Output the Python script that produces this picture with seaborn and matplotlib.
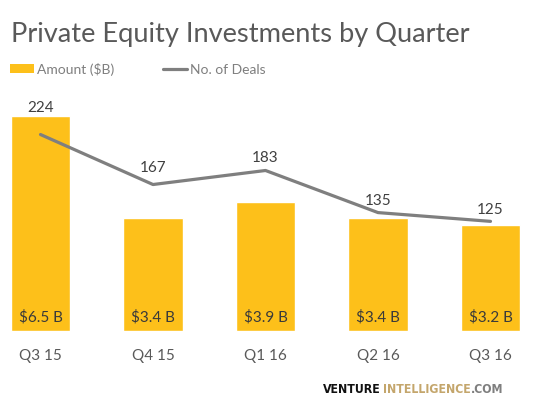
import numpy as np
import pandas as pd
import matplotlib
matplotlib.use("Agg")
import matplotlib.pyplot as plt
import seaborn as sns
from matplotlib.patches import Patch
from matplotlib.lines import Line2D

# Datos
quarters = ["Q3 15", "Q4 15", "Q1 16", "Q2 16", "Q3 16"]
amount = [6.5, 3.4, 3.9, 3.4, 3.2]
deals = [224, 167, 183, 135, 125]

df = pd.DataFrame({"quarter": quarters, "amount": amount, "deals": deals})

sns.set_style("white")
plt.rcParams["font.family"] = ["Lato", "DejaVu Sans"]

BAR = "#FDC01A"
LINE = "#7F7F7F"
TXT = "#595959"

fig = plt.figure(figsize=(5.4, 4.06), dpi=100)
ax = fig.add_axes([0, 74 / 406, 1, 232 / 406])

sns.barplot(data=df, x="quarter", y="amount", color=BAR, width=0.525,
            saturation=1, ax=ax)
ax.set_xlim(-0.36, 4.44)
ax.set_ylim(0, 7.0)
ax.set_xlabel("")
ax.set_ylabel("")
ax.set_yticks([])
ax.tick_params(axis="x", length=0, pad=12, labelsize=11, labelcolor=TXT)
sns.despine(ax=ax, left=True, bottom=True)

for i, v in enumerate(df["amount"]):
    ax.annotate(f"${v} B", (i, 0), xytext=(0, 15), textcoords="offset pixels",
                ha="center", va="center", fontsize=11, color="#3A3A3A")

ax2 = ax.twinx()
sns.lineplot(x=np.arange(len(df)), y=df["deals"], color=LINE, linewidth=2.3,
             ax=ax2)
ax2.set_ylim(0, 264.5)
ax2.set_yticks([])
ax2.set_ylabel("")
sns.despine(ax=ax2, left=True, bottom=True, right=True)

label_offsets = [28, 18, 13, 13, 12]
for i, v in enumerate(df["deals"]):
    ax2.annotate(str(v), (i, v), xytext=(0, label_offsets[i]),
                 textcoords="offset pixels", ha="center", va="center",
                 fontsize=11, color="#404040")

fig.text(11 / 540, 1 - 42 / 406, "Private Equity Investments by Quarter",
         fontsize=19.6, color=TXT, va="baseline", ha="left")

handles = [Patch(facecolor=BAR, edgecolor="none"),
           Line2D([0], [0], color=LINE, linewidth=2.3)]
fig.legend(handles, ["Amount ($B)", "No. of Deals"], loc="center left",
           bbox_to_anchor=(0.0, 1 - 70 / 406), ncol=2, frameon=False,
           fontsize=10, labelcolor="#7F7F7F", handlelength=1.75,
           handletextpad=0.2, columnspacing=3.5, handleheight=0.6,
           borderaxespad=0.3)

# marca de agua
wm_kw = dict(fontsize=13, fontweight="bold", family="DejaVu Sans",
             fontstretch="condensed", va="baseline")
wm_y = 1 - 393 / 406
parts = [("VENTURE", "#111111"), ("INTELLIGENCE", "#C4A66C"), (".COM", "#7F7F7F")]
x = 323
texts = []
for s, c in parts:
    t = fig.text(x / 540, wm_y, s, color=c, **wm_kw)
    fig.canvas.draw()
    bb = t.get_window_extent()
    x = bb.x1 + (2 if s == "VENTURE" else 0)
    texts.append(t)
# ajustar ancho total a ~179 px
total = x - 323
scale = 179 / total
for t in texts:
    t.remove()
x = 323
for s, c in parts:
    kw = dict(wm_kw)
    kw["fontsize"] = wm_kw["fontsize"] * scale
    t = fig.text(x / 540, wm_y, s, color=c, **kw)
    fig.canvas.draw()
    x = t.get_window_extent().x1 + (2 if s == "VENTURE" else 0)

plt.savefig("out.png", dpi=100)
plt.close()
